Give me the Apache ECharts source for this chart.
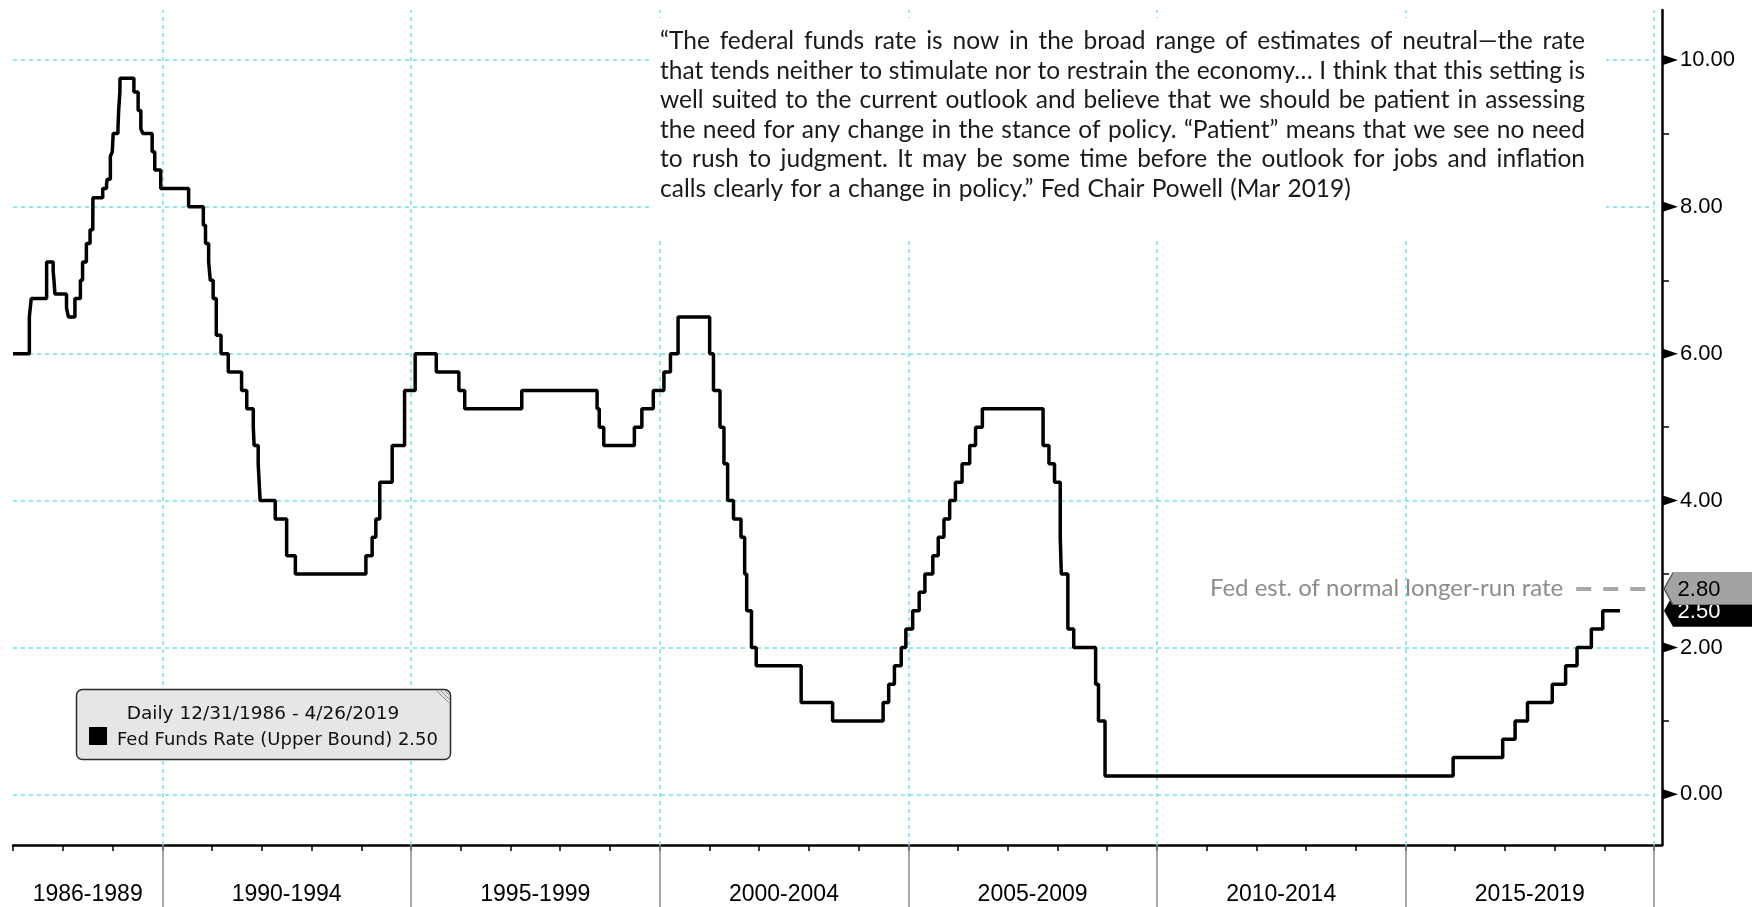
<!DOCTYPE html>
<html><head><meta charset="utf-8">
<script src="https://cdn.jsdelivr.net/npm/echarts@6/dist/echarts.min.js"></script>
<style>html,body{margin:0;padding:0;background:#fff}#c{width:1752px;height:907px}</style>
</head><body><div id="c"></div>
<script>
// ---------------- data ----------------
const RATE_DATES = [
'1986-12-31','1987-04-30','1987-05-14','1987-09-04','1987-10-22','1987-10-28','1987-11-04',
'1988-01-28','1988-02-11','1988-03-30','1988-05-09','1988-05-25','1988-06-22','1988-07-19','1988-08-08','1988-08-09','1988-10-20','1988-11-17','1988-11-22','1988-12-15','1988-12-29',
'1989-01-05','1989-02-09','1989-02-14','1989-02-23','1989-02-24','1989-06-06','1989-07-07','1989-07-27','1989-08-10','1989-10-18','1989-11-06','1989-12-20',
'1990-07-13','1990-10-29','1990-11-14','1990-12-07','1990-12-19',
'1991-01-09','1991-02-01','1991-03-08','1991-04-30','1991-08-06','1991-09-13','1991-10-31','1991-11-06','1991-12-06','1991-12-20',
'1992-04-09','1992-07-02','1992-09-04',
'1994-02-04','1994-03-22','1994-04-18','1994-05-17','1994-08-16','1994-11-15',
'1995-02-01','1995-07-06','1995-12-19',
'1996-01-31','1997-03-25',
'1998-09-29','1998-10-15','1998-11-17',
'1999-06-30','1999-08-24','1999-11-16',
'2000-02-02','2000-03-21','2000-05-16',
'2001-01-03','2001-01-31','2001-03-20','2001-04-18','2001-05-15','2001-06-27','2001-08-21','2001-09-17','2001-10-02','2001-11-06','2001-12-11',
'2002-11-06','2003-06-25',
'2004-06-30','2004-08-10','2004-09-21','2004-11-10','2004-12-14',
'2005-02-02','2005-03-22','2005-05-03','2005-06-30','2005-08-09','2005-09-20','2005-11-01','2005-12-13',
'2006-01-31','2006-03-28','2006-05-10','2006-06-29',
'2007-09-18','2007-10-31','2007-12-11',
'2008-01-22','2008-01-30','2008-03-18','2008-04-30','2008-10-08','2008-10-29','2008-12-16',
'2015-12-17','2016-12-15','2017-03-16','2017-06-15','2017-12-14',
'2018-03-22','2018-06-14','2018-09-27','2018-12-20','2019-04-26'
];
const RATE_VALUES = [
6.00,6.50,6.75,7.25,7.125,7.00,6.8125,
6.625,6.50,6.75,7.00,7.25,7.50,7.6875,7.75,8.125,8.25,8.3125,8.375,8.6875,8.75,
9.00,9.0625,9.3125,9.5625,9.75,9.5625,9.3125,9.0625,9.00,8.75,8.50,8.25,
8.00,7.75,7.50,7.25,7.00,
6.75,6.25,6.00,5.75,5.50,5.25,5.00,4.75,4.50,4.00,
3.75,3.25,3.00,
3.25,3.50,3.75,4.25,4.75,5.50,
6.00,5.75,5.50,
5.25,5.50,
5.25,5.00,4.75,
5.00,5.25,5.50,
5.75,6.00,6.50,
6.00,5.50,5.00,4.50,4.00,3.75,3.50,3.00,2.50,2.00,1.75,
1.25,1.00,
1.25,1.50,1.75,2.00,2.25,
2.50,2.75,3.00,3.25,3.50,3.75,4.00,4.25,
4.50,4.75,5.00,5.25,
4.75,4.50,4.25,
3.50,3.00,2.25,2.00,1.50,1.00,0.25,
0.50,0.75,1.00,1.25,1.50,
1.75,2.00,2.25,2.50,2.50
];
const BAND_LABELS = ['1986-1989','1990-1994','1995-1999','2000-2004','2005-2009','2010-2014','2015-2019'];
const BAND_EDGES = ['1986-12-31','1990-01-01','1995-01-01','2000-01-01','2005-01-01','2010-01-01','2015-01-01','2020-01-01'];
const Y_LABELS = [0, 2, 4, 6, 8, 10];
const Y_MINOR_TICKS = [1, 3, 5, 7, 9];
const LONG_RUN_RATE = 2.80;
const LONG_RUN_TEXT = 'Fed est. of normal longer-run rate';
const LONG_RUN_FROM = '2018-06-08';
const X_MIN = '1986-12-31', X_MAX = '2020-02-28';
const Y_MIN = -0.69, Y_MAX = 10.68;
const FIRST_TICK_YEAR = 1987, LAST_TICK_YEAR = 2020;
const LEGEND_TITLE = 'Daily 12/31/1986 - 4/26/2019';
const SERIES_NAME = 'Fed Funds Rate (Upper Bound)';
const QUOTE_LINES = [
'\u201cThe federal funds rate is now in the broad range of estimates of neutral\u2014the rate',
'that tends neither to stimulate nor to restrain the economy\u2026 I think that this setting is',
'well suited to the current outlook and believe that we should be patient in assessing',
'the need for any change in the stance of policy. \u201cPatient\u201d means that we see no need',
'to rush to judgment. It may be some time before the outlook for jobs and inflation',
'calls clearly for a change in policy.\u201d Fed Chair Powell (Mar 2019)'
];

// ---------------- helpers ----------------
const ts = s => { const [y, m, d] = s.split('-').map(Number); return Date.UTC(y, m - 1, d); };
const xMin = ts(X_MIN), xMax = ts(X_MAX);
const yearTicks = [];
for (let y = FIRST_TICK_YEAR; y <= LAST_TICK_YEAR; y++) yearTicks.push(ts(y + '-01-01'));
const edgeTs = BAND_EDGES.map(ts);
const bandCenters = BAND_LABELS.map((_, i) => (edgeTs[i] + edgeTs[i + 1]) / 2);
const gridEnd = edgeTs[edgeTs.length - 1];
const lastRate = RATE_VALUES[RATE_VALUES.length - 1];

const GRID_COLOR = '#6fe2e8';
const gridMarks = [];
edgeTs.slice(1).forEach(t => gridMarks.push({ xAxis: t }));
Y_LABELS.forEach(v => gridMarks.push([{ coord: [xMin, v] }, { coord: [gridEnd, v] }]));

function quoteGraphics() {
  const ctx = document.createElement('canvas').getContext('2d');
  const left = 660, right = 1585, W = right - left, top0 = 41.5, lh = 29.45;
  const fam = 'Lato';
  let fs = 24.5;
  const ok = size => {
    ctx.font = size + 'px ' + fam;
    const sp = ctx.measureText(' ').width;
    return QUOTE_LINES.slice(0, -1).every(l => {
      const w = l.split(' ');
      const sum = w.reduce((a, x) => a + ctx.measureText(x).width, 0);
      return (W - sum) / (w.length - 1) >= sp * 0.75;
    });
  };
  while (fs > 16 && !ok(fs)) fs -= 0.5;
  ctx.font = fs + 'px ' + fam;
  const els = [{ type: 'rect', z: 50, silent: true, shape: { x: 652, y: 18, width: 954, height: 220 }, style: { fill: '#fff' } }];
  QUOTE_LINES.forEach((line, i) => {
    const words = line.split(' ');
    const widths = words.map(w => ctx.measureText(w).width);
    const sum = widths.reduce((a, b) => a + b, 0);
    const last = i === QUOTE_LINES.length - 1;
    const gap = last ? ctx.measureText(' ').width * 1.15 : (W - sum) / (words.length - 1);
    let x = left;
    const y = top0 + i * lh;
    words.forEach((w, j) => {
      els.push({ type: 'text', z: 52, silent: true,
        style: { text: w, x: x, y: y, fontSize: fs, fontFamily: fam, fill: '#1a1a1a', align: 'left', verticalAlign: 'middle' } });
      x += widths[j] + gap;
    });
  });
  return els;
}

function legendGraphics() {
  return [
    { type: 'rect', z: 60, silent: true, shape: { x: 76.5, y: 689.5, width: 374, height: 70, r: 6 }, style: { fill: '#e6e6e6', stroke: '#2a2a2a', lineWidth: 1.5 } },
    { type: 'text', z: 61, silent: true, style: { text: LEGEND_TITLE, x: 263, y: 714, fontSize: 18.5, fontFamily: 'DejaVu Sans', fill: '#111', align: 'center', verticalAlign: 'middle' } },
    { type: 'rect', z: 61, silent: true, shape: { x: 89, y: 727, width: 18, height: 18 }, style: { fill: '#000' } },
    { type: 'text', z: 61, silent: true, style: { text: SERIES_NAME + ' ' + lastRate.toFixed(2), x: 117, y: 740, fontSize: 18, fontFamily: 'DejaVu Sans', fill: '#111', align: 'left', verticalAlign: 'middle' } },
    { type: 'line', z: 61, silent: true, shape: { x1: 437, y1: 691, x2: 449, y2: 703 }, style: { stroke: '#8a8a8a', lineWidth: 1 } },
    { type: 'line', z: 61, silent: true, shape: { x1: 441, y1: 691, x2: 449, y2: 699 }, style: { stroke: '#8a8a8a', lineWidth: 1 } },
    { type: 'line', z: 61, silent: true, shape: { x1: 445, y1: 691, x2: 449, y2: 695 }, style: { stroke: '#8a8a8a', lineWidth: 1 } }
  ];
}

const chart = echarts.init(document.getElementById('c'), null, { renderer: 'canvas' });
const LABEL_FONT = 'Liberation Sans';
const boxPath = 'path://M0,16L9,0L90,0L90,32L9,32Z';

chart.setOption({
  animation: false,
  backgroundColor: '#fff',
  grid: { left: 13, right: 90, top: 10, bottom: 62, containLabel: false, outerBoundsMode: 'none' },
  xAxis: [
    { type: 'value', position: 'bottom', min: xMin, max: xMax, scale: true,
      axisLine: { show: true, onZero: false, lineStyle: { color: '#000', width: 2.5 } },
      axisTick: { show: true, customValues: yearTicks, length: 6, lineStyle: { color: '#000', width: 1.5 } },
      axisLabel: { show: false }, splitLine: { show: false } },
    { type: 'value', position: 'bottom', offset: 0, min: xMin, max: xMax, scale: true,
      axisLine: { show: false, onZero: false },
      axisTick: { show: true, customValues: edgeTs.slice(1), length: 62, lineStyle: { color: '#8c8c8c', width: 1.5 } },
      axisLabel: { show: true, customValues: bandCenters, margin: 38, color: '#000', fontSize: 23, fontFamily: LABEL_FONT,
        hideOverlap: false,
        formatter: function (v) {
          let best = -1, bd = Infinity;
          bandCenters.forEach((c, i) => { const d = Math.abs(c - v); if (d < bd) { bd = d; best = i; } });
          return bd < 2 * 86400000 ? BAND_LABELS[best] : '';
        } },
      splitLine: { show: false } }
  ],
  yAxis: [
    { type: 'value', position: 'right', min: Y_MIN, max: Y_MAX,
      axisLine: { show: true, onZero: false, lineStyle: { color: '#000', width: 2.5 } },
      axisTick: { show: true, customValues: Y_MINOR_TICKS, length: 7, lineStyle: { color: '#000', width: 1.5 } },
      axisLabel: { show: true, customValues: Y_LABELS, margin: 18, color: '#000', fontSize: 22, fontFamily: LABEL_FONT,
        formatter: v => Number(v).toFixed(2) },
      splitLine: { show: false } }
  ],
  series: [
    { name: 'grid', type: 'line', data: [], silent: true, z: 1,
      markLine: { silent: true, z: 1, symbol: ['none', 'none'], label: { show: false }, animation: false,
        lineStyle: { color: GRID_COLOR, width: 1.5, type: [4, 4] }, emphasis: { disabled: true }, data: gridMarks } },
    { name: 'longrun', type: 'line', data: [], silent: true, z: 3,
      markLine: { silent: true, z: 3, symbol: ['none', 'none'], animation: false,
        lineStyle: { color: '#a8a8a8', width: 4, type: [15, 12] },
        label: { show: true, position: 'start', distance: 13, formatter: LONG_RUN_TEXT, color: '#8c8c8c', fontSize: 24, fontFamily: 'Lato' },
        emphasis: { disabled: true },
        data: [[{ coord: [ts(LONG_RUN_FROM), LONG_RUN_RATE] }, { coord: [gridEnd, LONG_RUN_RATE] }]] } },
    { name: SERIES_NAME, type: 'line', step: 'end', z: 5, silent: true, showSymbol: false, symbol: 'none',
      lineStyle: { color: '#000', width: 3.5 },
      data: RATE_DATES.map((d, i) => [ts(d), RATE_VALUES[i]]) },
    { name: 'majorTicks', type: 'scatter', z: 6, silent: true, clip: false,
      symbol: 'path://M0,0L15,5L0,10Z', symbolSize: [15, 10], symbolOffset: [8.5, 0],
      itemStyle: { color: '#000', opacity: 1 },
      data: Y_LABELS.map(v => [xMax, v]) },
    { name: 'lastBox', type: 'scatter', z: 7, silent: true, clip: false,
      symbol: boxPath, symbolSize: [90, 32], symbolOffset: [47, 0],
      itemStyle: { color: '#000', opacity: 1 },
      label: { show: true, position: 'inside', offset: [-10, 1], color: '#fff', fontSize: 22, fontFamily: LABEL_FONT,
        formatter: p => p.value[1].toFixed(2) },
      data: [[xMax, lastRate]] },
    { name: 'longBox', type: 'scatter', z: 8, silent: true, clip: false,
      symbol: boxPath, symbolSize: [90, 32], symbolOffset: [47, 0],
      itemStyle: { color: '#a3a3a3', borderColor: '#5a5a5a', borderWidth: 1, opacity: 1 },
      label: { show: true, position: 'inside', offset: [-10, 1], color: '#000', fontSize: 22, fontFamily: LABEL_FONT,
        formatter: p => p.value[1].toFixed(2) },
      data: [[xMax, LONG_RUN_RATE]] }
  ],
  graphic: { elements: quoteGraphics().concat(legendGraphics()) }
});
</script>
</body></html>
